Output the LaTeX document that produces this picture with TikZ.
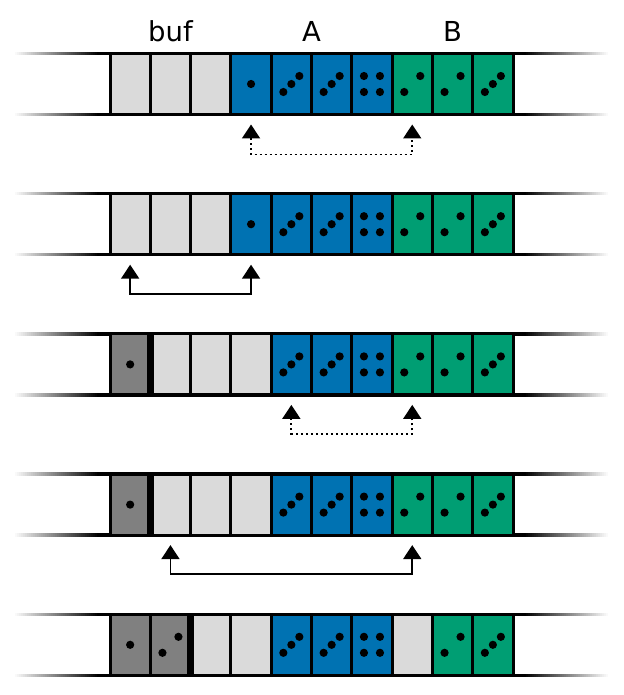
\documentclass[tikz,border=0pt]{standalone}
\usepackage{fontspec}
\setmainfont{DejaVu Sans}
\usetikzlibrary{arrows.meta}
\definecolor{cblue}{HTML}{0072B2}
\definecolor{cgreen}{HTML}{009E73}
\definecolor{clight}{HTML}{DADADA}
\definecolor{cdark}{HTML}{808080}
\newcommand\mkcell[4]{% name, x, y, color
  \node[cell, fill=#4] (#1) at (#2,#3) {};}
\newcommand\mkpips[2]{% name, count
  \ifcase#2\or
    \fill (#1.center) circle[radius=4.1pt];
  \or
    \fill ([shift={(-8pt,-8pt)}]#1.center) circle[radius=4.1pt];
    \fill ([shift={(8pt,8pt)}]#1.center) circle[radius=4.1pt];
  \or
    \fill ([shift={(-8pt,-8pt)}]#1.center) circle[radius=4.1pt];
    \fill (#1.center) circle[radius=4.1pt];
    \fill ([shift={(8pt,8pt)}]#1.center) circle[radius=4.1pt];
  \or
    \fill ([shift={(-8pt,-8pt)}]#1.center) circle[radius=4.1pt];
    \fill ([shift={(8pt,-8pt)}]#1.center) circle[radius=4.1pt];
    \fill ([shift={(-8pt,8pt)}]#1.center) circle[radius=4.1pt];
    \fill ([shift={(8pt,8pt)}]#1.center) circle[radius=4.1pt];
  \fi}
\newcommand\mkrails[1]{% top y
  \foreach \yy in {#1, #1+61}{
    \foreach \j in {0,...,45}{
      \pgfmathsetmacro\shadeval{min(100,100*\j/42)}
      \fill[black!\shadeval] (13+2*\j,\yy-1.75) rectangle (15.3+2*\j,\yy+1.75);
      \fill[black!\shadeval] (610-2*\j,\yy-1.75) rectangle (607.7-2*\j,\yy+1.75);
    }
    \fill (104,\yy-1.75) rectangle (519,\yy+1.75);
  }}
\begin{document}
\begin{tikzpicture}[x=1pt,y=-1pt,
  cell/.style={draw=black, line width=3pt, minimum width=40.3pt, minimum height=61pt, inner sep=0pt, outer sep=0pt},
  lbl/.style={font=\fontsize{27.5}{33}\selectfont, anchor=base, inner sep=0pt},
  conn/.style={line width=1.8pt, {Triangle[width=18pt,length=14pt]}-{Triangle[width=18pt,length=14pt]}},
  dots/.style={dash pattern=on 2pt off 3pt},
  sep/.style={line width=7pt}
]
\useasboundingbox (0,0) rectangle (623,695);

\node[lbl] (buf) at (170.5,41.7) {buf};
\node[lbl] (A) at (311.5,41.7) {A};
\node[lbl] (B) at (452.5,41.7) {B};

% row 1
\mkrails{53.5}
\foreach \col/\n [count=\i from 0] in {clight/0,clight/0,clight/0,cblue/1,cblue/3,cblue/3,cblue/4,cgreen/2,cgreen/2,cgreen/3}{
  \mkcell{r1-\i}{110+40.3*\i+20.15}{84}{\col}
  \mkpips{r1-\i}{\n}
}
% row 2
\mkrails{193.7}
\foreach \col/\n [count=\i from 0] in {clight/0,clight/0,clight/0,cblue/1,cblue/3,cblue/3,cblue/4,cgreen/2,cgreen/2,cgreen/3}{
  \mkcell{r2-\i}{110+40.3*\i+20.15}{224.2}{\col}
  \mkpips{r2-\i}{\n}
}
% row 3
\mkrails{333.9}
\foreach \col/\n [count=\i from 0] in {cdark/1,clight/0,clight/0,clight/0,cblue/3,cblue/3,cblue/4,cgreen/2,cgreen/2,cgreen/3}{
  \mkcell{r3-\i}{110+40.3*\i+20.15}{364.4}{\col}
  \mkpips{r3-\i}{\n}
}
\draw[sep] (r3-0.north east) -- (r3-0.south east);
% row 4
\mkrails{474.1}
\foreach \col/\n [count=\i from 0] in {cdark/1,clight/0,clight/0,clight/0,cblue/3,cblue/3,cblue/4,cgreen/2,cgreen/2,cgreen/3}{
  \mkcell{r4-\i}{110+40.3*\i+20.15}{504.6}{\col}
  \mkpips{r4-\i}{\n}
}
\draw[sep] (r4-0.north east) -- (r4-0.south east);
% row 5
\mkrails{614.3}
\foreach \col/\n [count=\i from 0] in {cdark/1,cdark/2,clight/0,clight/0,cblue/3,cblue/3,cblue/4,clight/0,cgreen/2,cgreen/3}{
  \mkcell{r5-\i}{110+40.3*\i+20.15}{644.8}{\col}
  \mkpips{r5-\i}{\n}
}
\draw[sep] (r5-1.north east) -- (r5-1.south east);

% connectors
\coordinate (a1) at ([yshift=-10pt]r1-3.south);
\coordinate (b1) at ([yshift=-10pt]r1-7.south);
\draw[conn, dots] (a1) -- ([yshift=-40pt]r1-3.south) -| (b1);

\coordinate (a2) at ([yshift=-10pt]r2-0.south);
\coordinate (b2) at ([yshift=-10pt]r2-3.south);
\draw[conn] (a2) -- ([yshift=-39pt]r2-0.south) -| (b2);

\coordinate (a3) at ([yshift=-10pt]r3-4.south);
\coordinate (b3) at ([yshift=-10pt]r3-7.south);
\draw[conn, dots] (a3) -- ([yshift=-39pt]r3-4.south) -| (b3);

\coordinate (a4) at ([yshift=-10pt]r4-1.south);
\coordinate (b4) at ([yshift=-10pt]r4-7.south);
\draw[conn] (a4) -- ([yshift=-39pt]r4-1.south) -| (b4);
\end{tikzpicture}
\end{document}
